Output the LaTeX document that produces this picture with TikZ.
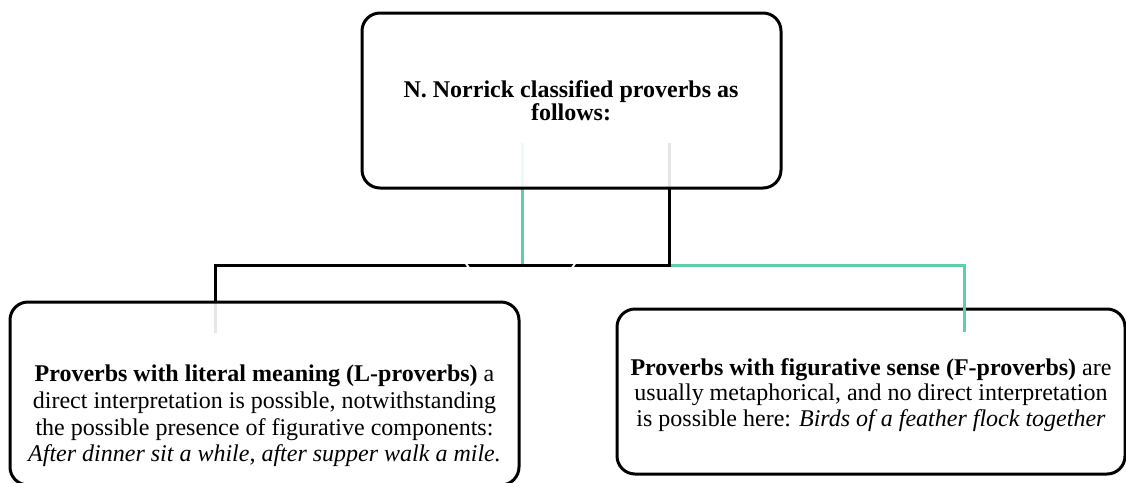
\documentclass[tikz,border=0pt]{standalone}
\usepackage{fontspec}
\setmainfont{Liberation Serif}
\usetikzlibrary{calc}
\definecolor{teal1}{RGB}{94,206,172}
\tikzset{
  box/.style={draw=black, line width=2.25pt, rounded corners=13.5pt, inner sep=0pt},
  fadebox/.style={box, fill=white, fill opacity=0.9, draw opacity=1, text opacity=1},
  solidbox/.style={box, fill=white},
  txt/.style={align=center, inner sep=0pt},
  toptxt/.style={align=center, inner sep=0pt, font=\fontsize{18}{17}\selectfont\bfseries},
  conn/.style={line width=2.25pt},
  cut/.style={white, line width=1.5pt}
}
\begin{document}
\begin{tikzpicture}[x=0.75pt,y=-0.75pt]
\useasboundingbox (0,0) rectangle (1126,482);
% right box (under its connector)
\node[solidbox, minimum width=508*0.75pt, minimum height=165*0.75pt] (R) at (871,391.5) {};
\node[txt, font=\fontsize{18}{18.9}\selectfont] (Rt) at (871,395) {\textbf{Proverbs with figurative sense (F-proverbs)} are\\usually metaphorical, and no direct interpretation\\is possible here: \textit{Birds of a feather flock together}};
% helper coordinates
\coordinate (Tpos) at (571.5,100.5);
\coordinate (Lpos) at (264.5,393.5);
% connectors
\coordinate (ts) at ($(Tpos)+(-49.5,42.5)$);
\coordinate (bs) at ($(Tpos)+(97.5,42.5)$);
\coordinate (te) at ($(R.north)+(93,24)$);
\coordinate (be) at ($(Lpos)+(-49.5,-60.5)$);
\draw[conn, teal1] (ts) -- (ts |- 0,265) -- (te |- 0,265) -- (te);
\draw[conn, black] (bs) -- (bs |- 0,265) -- (be |- 0,265) -- (be);
\draw[cut] (465,262) -- (469,268);
\draw[cut] (572,268) -- (576,262);
% top and left boxes (over their connectors)
\node[fadebox, minimum width=419*0.75pt, minimum height=175*0.75pt] (T) at (Tpos) {};
\node[toptxt] (Tt) at (571,100.5) {N. Norrick classified proverbs as\\follows:};
\node[fadebox, minimum width=509*0.75pt, minimum height=183*0.75pt] (L) at (Lpos) {};
\node[txt, font=\fontsize{18}{20.1}\selectfont] (Lt) at (264.5,416) {\textbf{Proverbs with literal meaning (L-proverbs)} a\\direct interpretation is possible, notwithstanding\\the possible presence of figurative components:\\\textit{After dinner sit a while, after supper walk a mile.}};
\end{tikzpicture}
\end{document}
